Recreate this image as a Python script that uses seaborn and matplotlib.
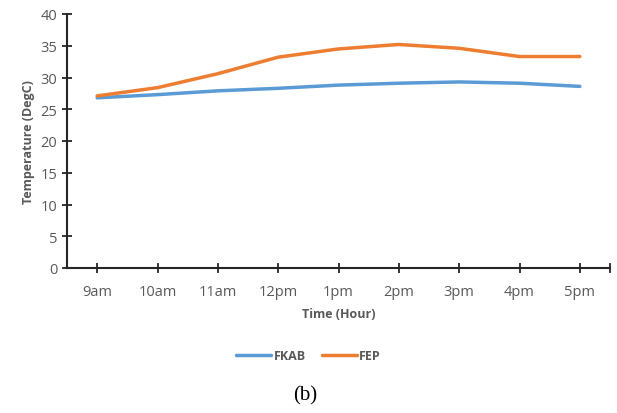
import pandas as pd
import matplotlib
matplotlib.use('Agg')
import matplotlib.pyplot as plt
import seaborn as sns

# Data
hours = ['9am', '10am', '11am', '12pm', '1pm', '2pm', '3pm', '4pm', '5pm']
fkab = [26.8, 27.3, 27.9, 28.3, 28.8, 29.1, 29.3, 29.1, 28.6]
fep = [27.1, 28.4, 30.6, 33.2, 34.5, 35.2, 34.6, 33.3, 33.3]
series_names = ['FKAB', 'FEP']
series_colors = ['#5B9BD5', '#ED7D31']

df = pd.DataFrame({'Time': hours * 2,
                   'Temp': fkab + fep,
                   'Series': [series_names[0]] * len(hours) + [series_names[1]] * len(hours)})

sns.set_theme(style='white')
plt.rcParams['font.family'] = ['Open Sans', 'DejaVu Sans']
grey = '#595959'

fig = plt.figure(figsize=(6.17, 4.14), dpi=100)
ax = fig.add_axes([67 / 617, (414 - 269) / 414, (610 - 67) / 617, 254 / 414])

sns.lineplot(data=df, x='Time', y='Temp', hue='Series', palette=series_colors,
             linewidth=2.5, ax=ax, sort=False, legend=False)

ax.set_xlim(-0.5, len(hours) - 0.5)
ax.set_ylim(0, 40)
ax.set_yticks(range(0, 41, 5))
ax.set_xticks(range(len(hours)))
ax.set_xticklabels(hours)
# extra tick at the right end of the category axis
ax.set_xticks([len(hours) - 0.5], minor=True)

for side in ['top', 'right']:
    ax.spines[side].set_visible(False)
for side in ['left', 'bottom']:
    ax.spines[side].set_color('#262626')
    ax.spines[side].set_linewidth(1.5)

ax.tick_params(axis='both', which='both', bottom=True, left=True, direction='inout',
               length=7, width=1.3, color='#262626', labelsize=10.5, labelcolor=grey)
ax.tick_params(axis='x', pad=8)
ax.set_xlabel('Time (Hour)', fontsize=9, fontweight='bold', color=grey, labelpad=6)
ax.set_ylabel('Temperature (DegC)', fontsize=9, fontweight='bold', color=grey, labelpad=4)

handles = [plt.Line2D([], [], color=c, linewidth=2.5) for c in series_colors]
fig.legend(handles, series_names, loc='center', bbox_to_anchor=(0.50, (414 - 357) / 414),
           ncol=2, frameon=False, handlelength=2.8, handletextpad=0.2,
           columnspacing=1.3, prop={'weight': 'bold', 'size': 9},
           labelcolor=grey)

fig.text(305 / 617, (414 - 396) / 414, '(b)', ha='center', va='center',
         fontsize=15, family='Liberation Serif', color='black')

fig.savefig('out.png', dpi=100, facecolor='white')
